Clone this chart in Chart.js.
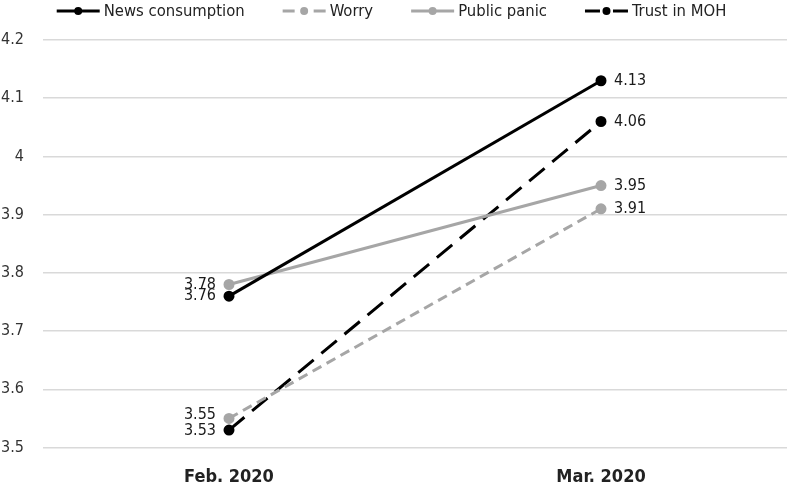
<!DOCTYPE html>
<html>
<head>
<meta charset="utf-8">
<script src="https://cdn.jsdelivr.net/npm/chart.js@4.4.0/dist/chart.umd.min.js"></script>
<style>
  html, body { margin: 0; padding: 0; background: #fff; }
  #wrap { width: 787px; height: 486px; }
</style>
</head>
<body>
<div id="wrap"><canvas id="lineChart"></canvas></div>
<script>
const months = ["Feb. 2020", "Mar. 2020"];
const newsConsumption = [3.76, 4.13];
const worry = [3.55, 3.91];
const publicPanic = [3.78, 3.95];
const trustMOH = [3.53, 4.06];
const yTicks = [3.5, 3.6, 3.7, 3.8, 3.9, 4, 4.1, 4.2];

const FONT = "'DejaVu Sans Condensed', 'DejaVu Sans', sans-serif";

// legend drawn by hand so the line+dot glyphs look like the original
const lineLegend = {
    id: "lineLegend",
    afterDraw(chart) {
        const ctx = chart.ctx;
        const sets = chart.data.datasets;
        const iconW = 43, gapIcon = 4, gapItem = 38, y = 11;
        ctx.save();
        ctx.font = "16.5px " + FONT;
        const widths = sets.map(ds => ctx.measureText(ds.label).width);
        let total = 0;
        widths.forEach(w => total += iconW + gapIcon + w);
        total += gapItem * (sets.length - 1);
        let x = chart.width / 2 - 2 - total / 2;
        sets.forEach((ds, i) => {
            ctx.strokeStyle = ds.borderColor;
            ctx.lineWidth = 3;
            ctx.setLineDash(ds.legendDash);
            ctx.beginPath();
            ctx.moveTo(x, y);
            ctx.lineTo(x + iconW, y);
            ctx.stroke();
            ctx.setLineDash([]);
            ctx.fillStyle = ds.borderColor;
            ctx.beginPath();
            ctx.arc(x + iconW / 2, y, 4, 0, Math.PI * 2);
            ctx.fill();
            ctx.fillStyle = "#222";
            ctx.textAlign = "left";
            ctx.textBaseline = "middle";
            ctx.fillText(ds.label, x + iconW + gapIcon, y + 1);
            x += iconW + gapIcon + widths[i] + gapItem;
        });
        ctx.restore();
    }
};

// value labels: left of the first point, right of the last
const valueLabels = {
    id: "valueLabels",
    afterDatasetsDraw(chart) {
        const ctx = chart.ctx;
        ctx.save();
        ctx.font = "16px " + FONT;
        ctx.fillStyle = "#1a1a1a";
        ctx.textBaseline = "middle";
        chart.data.datasets.forEach((ds, i) => {
            const meta = chart.getDatasetMeta(i);
            meta.data.forEach((pt, j) => {
                const v = ds.data[j];
                const y = pt.y + ds.labelShift[j];
                if (j === 0) {
                    ctx.textAlign = "right";
                    ctx.fillText(v.toFixed(2), pt.x - 13, y);
                } else {
                    ctx.textAlign = "left";
                    ctx.fillText(v.toFixed(2), pt.x + 13, y);
                }
            });
        });
        ctx.restore();
    }
};

const ctx = document.getElementById("lineChart").getContext("2d");
new Chart(ctx, {
    type: "line",
    data: {
        labels: months,
        datasets: [
            {
                label: "News consumption",
                data: newsConsumption,
                borderColor: "#000000",
                backgroundColor: "#000000",
                borderWidth: 3,
                pointRadius: 4,
                legendDash: [],
                labelShift: [0, 0]
            },
            {
                label: "Worry",
                data: worry,
                borderColor: "#a6a6a6",
                backgroundColor: "#a6a6a6",
                borderWidth: 3,
                borderDash: [10, 6],
                pointRadius: 4,
                legendDash: [12, 19],
                labelShift: [-4, 0]
            },
            {
                label: "Public panic",
                data: publicPanic,
                borderColor: "#a6a6a6",
                backgroundColor: "#a6a6a6",
                borderWidth: 3,
                pointRadius: 4,
                legendDash: [],
                labelShift: [0, 0]
            },
            {
                label: "Trust in MOH",
                data: trustMOH,
                borderColor: "#000000",
                backgroundColor: "#000000",
                borderWidth: 3,
                borderDash: [20, 10],
                pointRadius: 4,
                legendDash: [15, 13],
                labelShift: [1, 0]
            }
        ]
    },
    options: {
        responsive: true,
        maintainAspectRatio: false,
        animation: false,
        layout: { autoPadding: false, padding: { left: 0, right: 0, top: 40, bottom: 0 } },
        plugins: {
            legend: { display: false },
            tooltip: { enabled: false }
        },
        scales: {
            x: {
                offset: true,
                grid: { display: false },
                border: { display: false },
                ticks: {
                    color: "#222",
                    font: { size: 18, weight: "bold", family: FONT },
                    padding: 11
                },
                afterFit(axis) {
                    axis.height = 38.5;
                    axis.paddingLeft = 0;
                    axis.paddingRight = 0;
                }
            },
            y: {
                min: yTicks[0],
                max: yTicks[yTicks.length - 1],
                afterBuildTicks(axis) {
                    axis.ticks = yTicks.map(v => ({ value: v }));
                },
                afterFit(axis) {
                    axis.width = 43;
                    axis.paddingTop = 0;
                    axis.paddingBottom = 0;
                },
                ticks: {
                    color: "#333",
                    font: { size: 16, family: FONT },
                    padding: 19,
                    callback: v => String(v)
                },
                grid: { color: "#d9d9d9", lineWidth: 1.5, drawTicks: false },
                border: { display: false }
            }
        }
    },
    plugins: [valueLabels, lineLegend]
});
</script>
</body>
</html>
